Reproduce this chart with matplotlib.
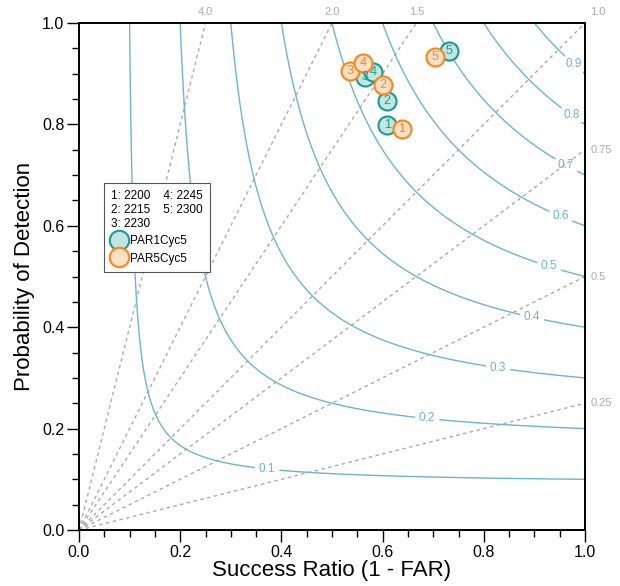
import matplotlib
matplotlib.use('Agg')
import matplotlib.pyplot as plt
import numpy as np
from matplotlib.lines import Line2D

plt.rcParams['font.family'] = ['Liberation Sans', 'DejaVu Sans']

# success ratio / POD for each forecast time
labels = ['1', '2', '3', '4', '5']
par1_sr = [0.609, 0.609, 0.565, 0.581, 0.731]
par1_pod = [0.799, 0.846, 0.893, 0.903, 0.945]
par5_sr = [0.638, 0.601, 0.536, 0.561, 0.704]
par5_pod = [0.791, 0.878, 0.905, 0.921, 0.933]

csi_levels = [0.1, 0.2, 0.3, 0.4, 0.5, 0.6, 0.7, 0.8, 0.9]
csi_label_pos = [(0.372, 0.120), (0.688, 0.219), (0.828, 0.318), (0.895, 0.418),
                 (0.929, 0.519), (0.951, 0.617), (0.962, 0.718), (0.972, 0.817),
                 (0.978, 0.919)]
bias_values = [4.0, 2.0, 1.5, 1.0, 0.75, 0.5, 0.25]
bias_text = ['4.0', '2.0', '1.5', '1.0', '0.75', '0.5', '0.25']
legend_text = '1: 2200    4: 2245\n2: 2215    5: 2300\n3: 2230'

teal_edge = '#1a9a93'
teal_face = '#bfe6e2'
orange_edge = '#ff8418'
orange_face = '#fde0c8'
csi_color = '#6cb4cf'
bias_color = '#aaaaaa'

fig = plt.figure(figsize=(6.2, 5.86), dpi=100)
ax = fig.add_axes([79/620, 1-530/586, 506/620, 507/586])

# CSI contours
sr = np.linspace(0.001, 1, 600)
pod = np.linspace(0.001, 1, 600)
SR, POD = np.meshgrid(sr, pod)
CSI = 1.0 / (1.0/SR + 1.0/POD - 1.0)
cs = ax.contour(SR, POD, CSI, levels=csi_levels, colors=csi_color, linewidths=1.0)
txts = ax.clabel(cs, fmt='%.1f', fontsize=8.5, inline=True, inline_spacing=4,
                 manual=csi_label_pos)
for t in txts:
    t.set_rotation(0)

# bias lines
for b, s in zip(bias_values, bias_text):
    if b >= 1:
        xe, ye = 1.0/b, 1.0
    else:
        xe, ye = 1.0, b
    ax.plot([0, xe], [0, ye], color=bias_color, ls=(0, (2.5, 2.5)), lw=1.0, zorder=1)
    if b > 1:
        ax.text(xe, 1.022, s, color=bias_color, fontsize=8, ha='center', va='center',
                clip_on=False)
    elif b == 1:
        ax.text(1.026, 1.022, s, color=bias_color, fontsize=8, ha='center', va='center',
                clip_on=False)
    else:
        ax.text(1.012, ye, s, color=bias_color, fontsize=8, ha='left', va='center',
                clip_on=False)

# points
for xs, ys, ec, fc in [(par1_sr, par1_pod, teal_edge, teal_face),
                       (par5_sr, par5_pod, orange_edge, orange_face)]:
    for x, y, lab in zip(xs, ys, labels):
        ax.plot(x, y, 'o', ms=13, mec=ec, mfc=fc, mew=1.5, zorder=5)
        ax.text(x, y, lab, color=ec, fontsize=9, ha='center', va='center', zorder=6)

ax.set_xlim(0, 1)
ax.set_ylim(0, 1)
ax.set_xticks(np.arange(0, 1.01, 0.2))
ax.set_yticks(np.arange(0, 1.01, 0.2))
ax.set_xticks(np.arange(0, 1.01, 0.05), minor=True)
ax.set_yticks(np.arange(0, 1.01, 0.05), minor=True)
ax.tick_params(which='both', direction='out', top=False, right=False, labelsize=11.5)
ax.tick_params(which='major', length=8.5, width=1, pad=2)
ax.tick_params(which='minor', length=5, width=1)
for sp in ax.spines.values():
    sp.set_linewidth(1.4)

ax.set_xlabel('Success Ratio (1 - FAR)', fontsize=16, labelpad=0)
ax.set_ylabel('Probability of Detection', fontsize=16, labelpad=5)

handles = [Line2D([], [], marker='o', ls='none', ms=14, mec=teal_edge, mfc=teal_face, mew=1.5),
           Line2D([], [], marker='o', ls='none', ms=14, mec=orange_edge, mfc=orange_face, mew=1.5)]
leg = ax.legend(handles, ['PAR1Cyc5', 'PAR5Cyc5'], title=legend_text, alignment='left',
                loc='upper left', bbox_to_anchor=(0.049, 0.684), borderaxespad=0,
                fontsize=8.5, title_fontsize=8.5, fancybox=False, framealpha=1,
                edgecolor='#555555', handletextpad=0.3, handlelength=1.3,
                labelspacing=0.45, borderpad=0.6)
leg.get_frame().set_linewidth(0.8)

fig.savefig('out.png', dpi=100)
